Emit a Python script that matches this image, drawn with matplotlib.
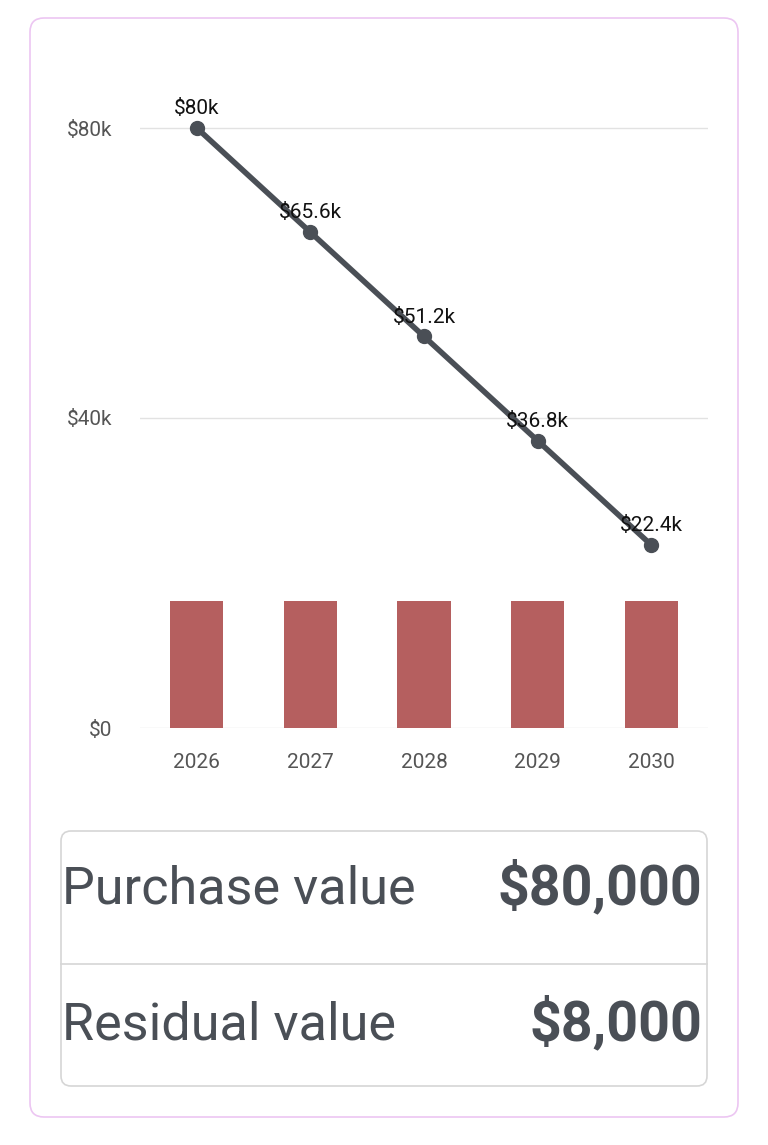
import matplotlib
matplotlib.use("Agg")
import matplotlib.pyplot as plt
from matplotlib.patches import FancyBboxPatch

years = ["2026", "2027", "2028", "2029", "2030"]
line_vals = [80000, 65600, 51200, 36800, 22400]
line_labels = ["$80k", "$65.6k", "$51.2k", "$36.8k", "$22.4k"]
bar_vals = [14600, 14600, 14600, 14600, 14600]
yticks = [40000, 80000]
ytick_labels = ["$40k", "$80k"]
rows = ["Purchase value", "Residual value"]
row_vals = ["$80,000", "$8,000"]

W, H = 768, 1145
fig = plt.figure(figsize=(W/100, H/100), dpi=100)
fig.patch.set_facecolor("white")

def fx(px): return px / W
def fy(py): return 1 - py / H

bg = fig.add_axes([0, 0, 1, 1]); bg.set_xlim(0, W); bg.set_ylim(H, 0); bg.axis("off")
bg.add_patch(FancyBboxPatch((30, 18), 708, 1099, boxstyle="round,pad=0,rounding_size=14",
                            fc="white", ec="#ecc6f2", lw=1.2))
bg.add_patch(FancyBboxPatch((61, 831), 646, 255, boxstyle="round,pad=0,rounding_size=10",
                            fc="white", ec="#d6d6d6", lw=1.2))
bg.plot([61, 707], [964, 964], color="#d6d6d6", lw=1.2)
txtc = "#4a4f56"
for i, (r, v) in enumerate(zip(rows, row_vals)):
    yc = 890 + i * 136
    bg.text(62, yc, r, fontsize=37.5, color=txtc, va="center", ha="left", family="Roboto")
    bg.text(702, yc - 2, v, fontsize=40, color=txtc, va="center", ha="right", family="Roboto", fontweight="bold")

# chart: zero at px 707, 80k at px 128; axis bottom at px 728
k = (707 - 128) / 80000
ymin = -(728 - 707) / k
ymax = (707 - 60) / k
ax = fig.add_axes([fx(140), fy(728), fx(708) - fx(140), fy(60) - fy(728)])
ax.set_xlim(-0.5, 4.5); ax.set_ylim(ymin, ymax)
x = list(range(len(years)))
ax.bar(x, [v - ymin for v in bar_vals], width=0.47, bottom=ymin, color="#b55f5f", zorder=2)
ax.plot(x, line_vals, color="#4a4f56", lw=4, marker="o", ms=10, zorder=3)
for xi, v, l in zip(x, line_vals, line_labels):
    ax.annotate(l, (xi, v), xytext=(0, 7), textcoords="offset points", ha="center",
                va="bottom", fontsize=15, color="#111111", family="Roboto", zorder=4)
ax.set_yticks([ymin] + yticks); ax.set_yticklabels(["$0"] + ytick_labels)
ax.set_xticks(x); ax.set_xticklabels(years)
for s in ax.spines.values(): s.set_visible(False)
ax.grid(axis="y", color="#e2e2e2", lw=1, zorder=0)
ax.tick_params(axis="y", length=0, labelsize=15, labelcolor="#555555", pad=20)
ax.tick_params(axis="x", length=0, labelsize=15, labelcolor="#555555", pad=18)
for t in ax.get_xticklabels() + ax.get_yticklabels(): t.set_family("Roboto")
ax.set_axisbelow(True)

fig.savefig("out.png", dpi=100)
